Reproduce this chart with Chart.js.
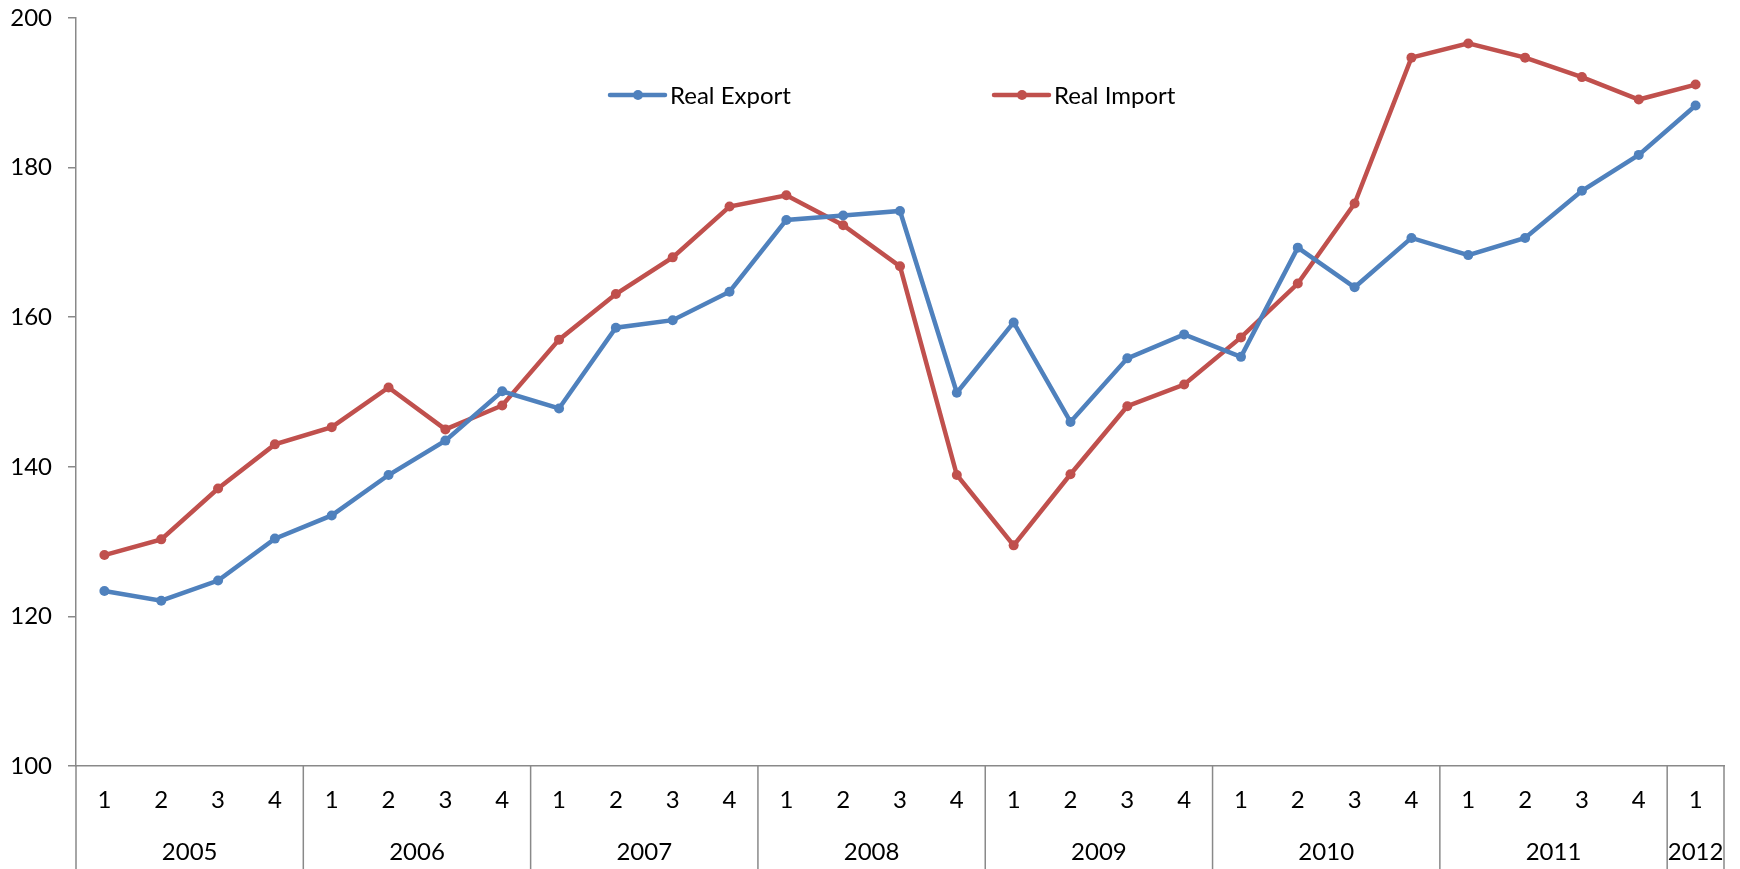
<!DOCTYPE html>
<html>
<head>
<meta charset="utf-8">
<script src="https://cdn.jsdelivr.net/npm/chart.js@4.4.1/dist/chart.umd.min.js"></script>
<style>
  html, body { margin: 0; padding: 0; background: #fff; }
  #wrap { width: 1740px; height: 869px; }
</style>
</head>
<body>
<div id="wrap"><canvas id="tradeChart" width="1740" height="869"></canvas></div>
<script>
// quarterly trade volumes, 2005 Q1 - 2012 Q1
const years = ['2005', '2006', '2007', '2008', '2009', '2010', '2011', '2012'];
const quartersPerYear = [4, 4, 4, 4, 4, 4, 4, 1];
const quarterLabels = [
    '1', '2', '3', '4', '1', '2', '3', '4', '1', '2', '3', '4', '1', '2', '3', '4',
    '1', '2', '3', '4', '1', '2', '3', '4', '1', '2', '3', '4', '1'
];
const realExport = [
    123.4, 122.1, 124.8, 130.4, 133.5, 138.9, 143.5, 150.1,
    147.8, 158.6, 159.6, 163.4, 173.0, 173.6, 174.2, 149.9,
    159.3, 146.0, 154.5, 157.7, 154.7, 169.3, 164.0, 170.6,
    168.3, 170.6, 176.9, 181.7, 188.3
];
const realImport = [
    128.2, 130.3, 137.1, 143.0, 145.3, 150.6, 145.0, 148.2,
    157.0, 163.1, 168.0, 174.8, 176.3, 172.3, 166.8, 138.9,
    129.5, 139.0, 148.1, 151.0, 157.3, 164.5, 175.2, 194.7,
    196.6, 194.7, 192.1, 189.1, 191.1
];
const yMin = 100;
const yMax = 200;
const yStep = 20;

const axisGray = '#898989';
const fontFamily = 'Lato, "Open Sans", sans-serif';

// year row under the quarter labels, with separators between years
const yearAxis = {
    id: 'yearAxis',
    afterDraw(chart) {
        const ctx = chart.ctx;
        const xs = chart.scales.x;
        const area = chart.chartArea;
        const half = (xs.getPixelForValue(1) - xs.getPixelForValue(0)) / 2;
        ctx.save();
        ctx.strokeStyle = axisGray;
        ctx.lineWidth = 1.5;
        ctx.fillStyle = '#000';
        ctx.font = '24px ' + fontFamily;
        ctx.textAlign = 'center';
        ctx.textBaseline = 'middle';
        let start = 0;
        let right = area.left;
        years.forEach((yr, i) => {
            const n = quartersPerYear[i];
            const left = xs.getPixelForValue(start) - half;
            right = xs.getPixelForValue(start + n - 1) + half;
            ctx.beginPath();
            ctx.moveTo(left, area.bottom);
            ctx.lineTo(left, chart.height);
            ctx.stroke();
            ctx.fillText(yr, (left + right) / 2, area.bottom + 86);
            start += n;
        });
        ctx.beginPath();
        ctx.moveTo(right, area.bottom);
        ctx.lineTo(right, chart.height);
        ctx.stroke();
        ctx.restore();
    }
};

// legend drawn inside the plot area
const innerLegend = {
    id: 'innerLegend',
    afterDraw(chart) {
        const ctx = chart.ctx;
        const xPos = [610, 994];
        const y = 95;
        ctx.save();
        ctx.font = '24px ' + fontFamily;
        ctx.textBaseline = 'middle';
        ctx.textAlign = 'left';
        chart.data.datasets.forEach((ds, i) => {
            const x = xPos[i];
            ctx.strokeStyle = ds.borderColor;
            ctx.lineWidth = ds.borderWidth;
            ctx.lineCap = 'round';
            ctx.beginPath();
            ctx.moveTo(x, y);
            ctx.lineTo(x + 55, y);
            ctx.stroke();
            ctx.fillStyle = ds.borderColor;
            ctx.beginPath();
            ctx.arc(x + 28, y, ds.pointRadius, 0, Math.PI * 2);
            ctx.fill();
            ctx.fillStyle = '#000';
            ctx.fillText(ds.label, x + 60, y + 1);
        });
        ctx.restore();
    }
};

new Chart(document.getElementById('tradeChart'), {
    type: 'line',
    data: {
        labels: quarterLabels,
        datasets: [
            {
                label: 'Real Export',
                data: realExport,
                borderColor: '#4F81BD',
                backgroundColor: '#4F81BD',
                pointBackgroundColor: '#4F81BD',
                borderWidth: 4.5,
                pointRadius: 5,
                pointBorderWidth: 0,
                tension: 0
            },
            {
                label: 'Real Import',
                data: realImport,
                borderColor: '#C0504D',
                backgroundColor: '#C0504D',
                pointBackgroundColor: '#C0504D',
                borderWidth: 4.5,
                pointRadius: 5,
                pointBorderWidth: 0,
                tension: 0
            }
        ]
    },
    options: {
        responsive: false,
        animation: false,
        devicePixelRatio: 1,
        layout: { autoPadding: false, padding: { top: 18, right: 16, left: 0, bottom: 0 } },
        plugins: {
            legend: { display: false },
            tooltip: { enabled: false }
        },
        scales: {
            x: {
                type: 'category',
                offset: true,
                grid: { display: false },
                border: { color: axisGray, width: 1.5 },
                ticks: {
                    color: '#000',
                    font: { family: fontFamily, size: 24 },
                    padding: 12,
                    autoSkip: false,
                    maxRotation: 0
                },
                afterFit(scale) { scale.height = 103; }
            },
            y: {
                min: yMin,
                max: yMax,
                grid: {
                    drawOnChartArea: false,
                    drawTicks: true,
                    tickLength: 8,
                    color: axisGray,
                    lineWidth: 1.5
                },
                border: { color: axisGray, width: 1.5 },
                ticks: {
                    stepSize: yStep,
                    color: '#000',
                    font: { family: fontFamily, size: 24 },
                    padding: 16
                },
                afterFit(scale) {
                    // keep the label padding from pushing the plot top down
                    scale.width = 76;
                    scale.paddingTop = 0;
                    scale.paddingBottom = 0;
                }
            }
        }
    },
    plugins: [yearAxis, innerLegend]
});
</script>
</body>
</html>
